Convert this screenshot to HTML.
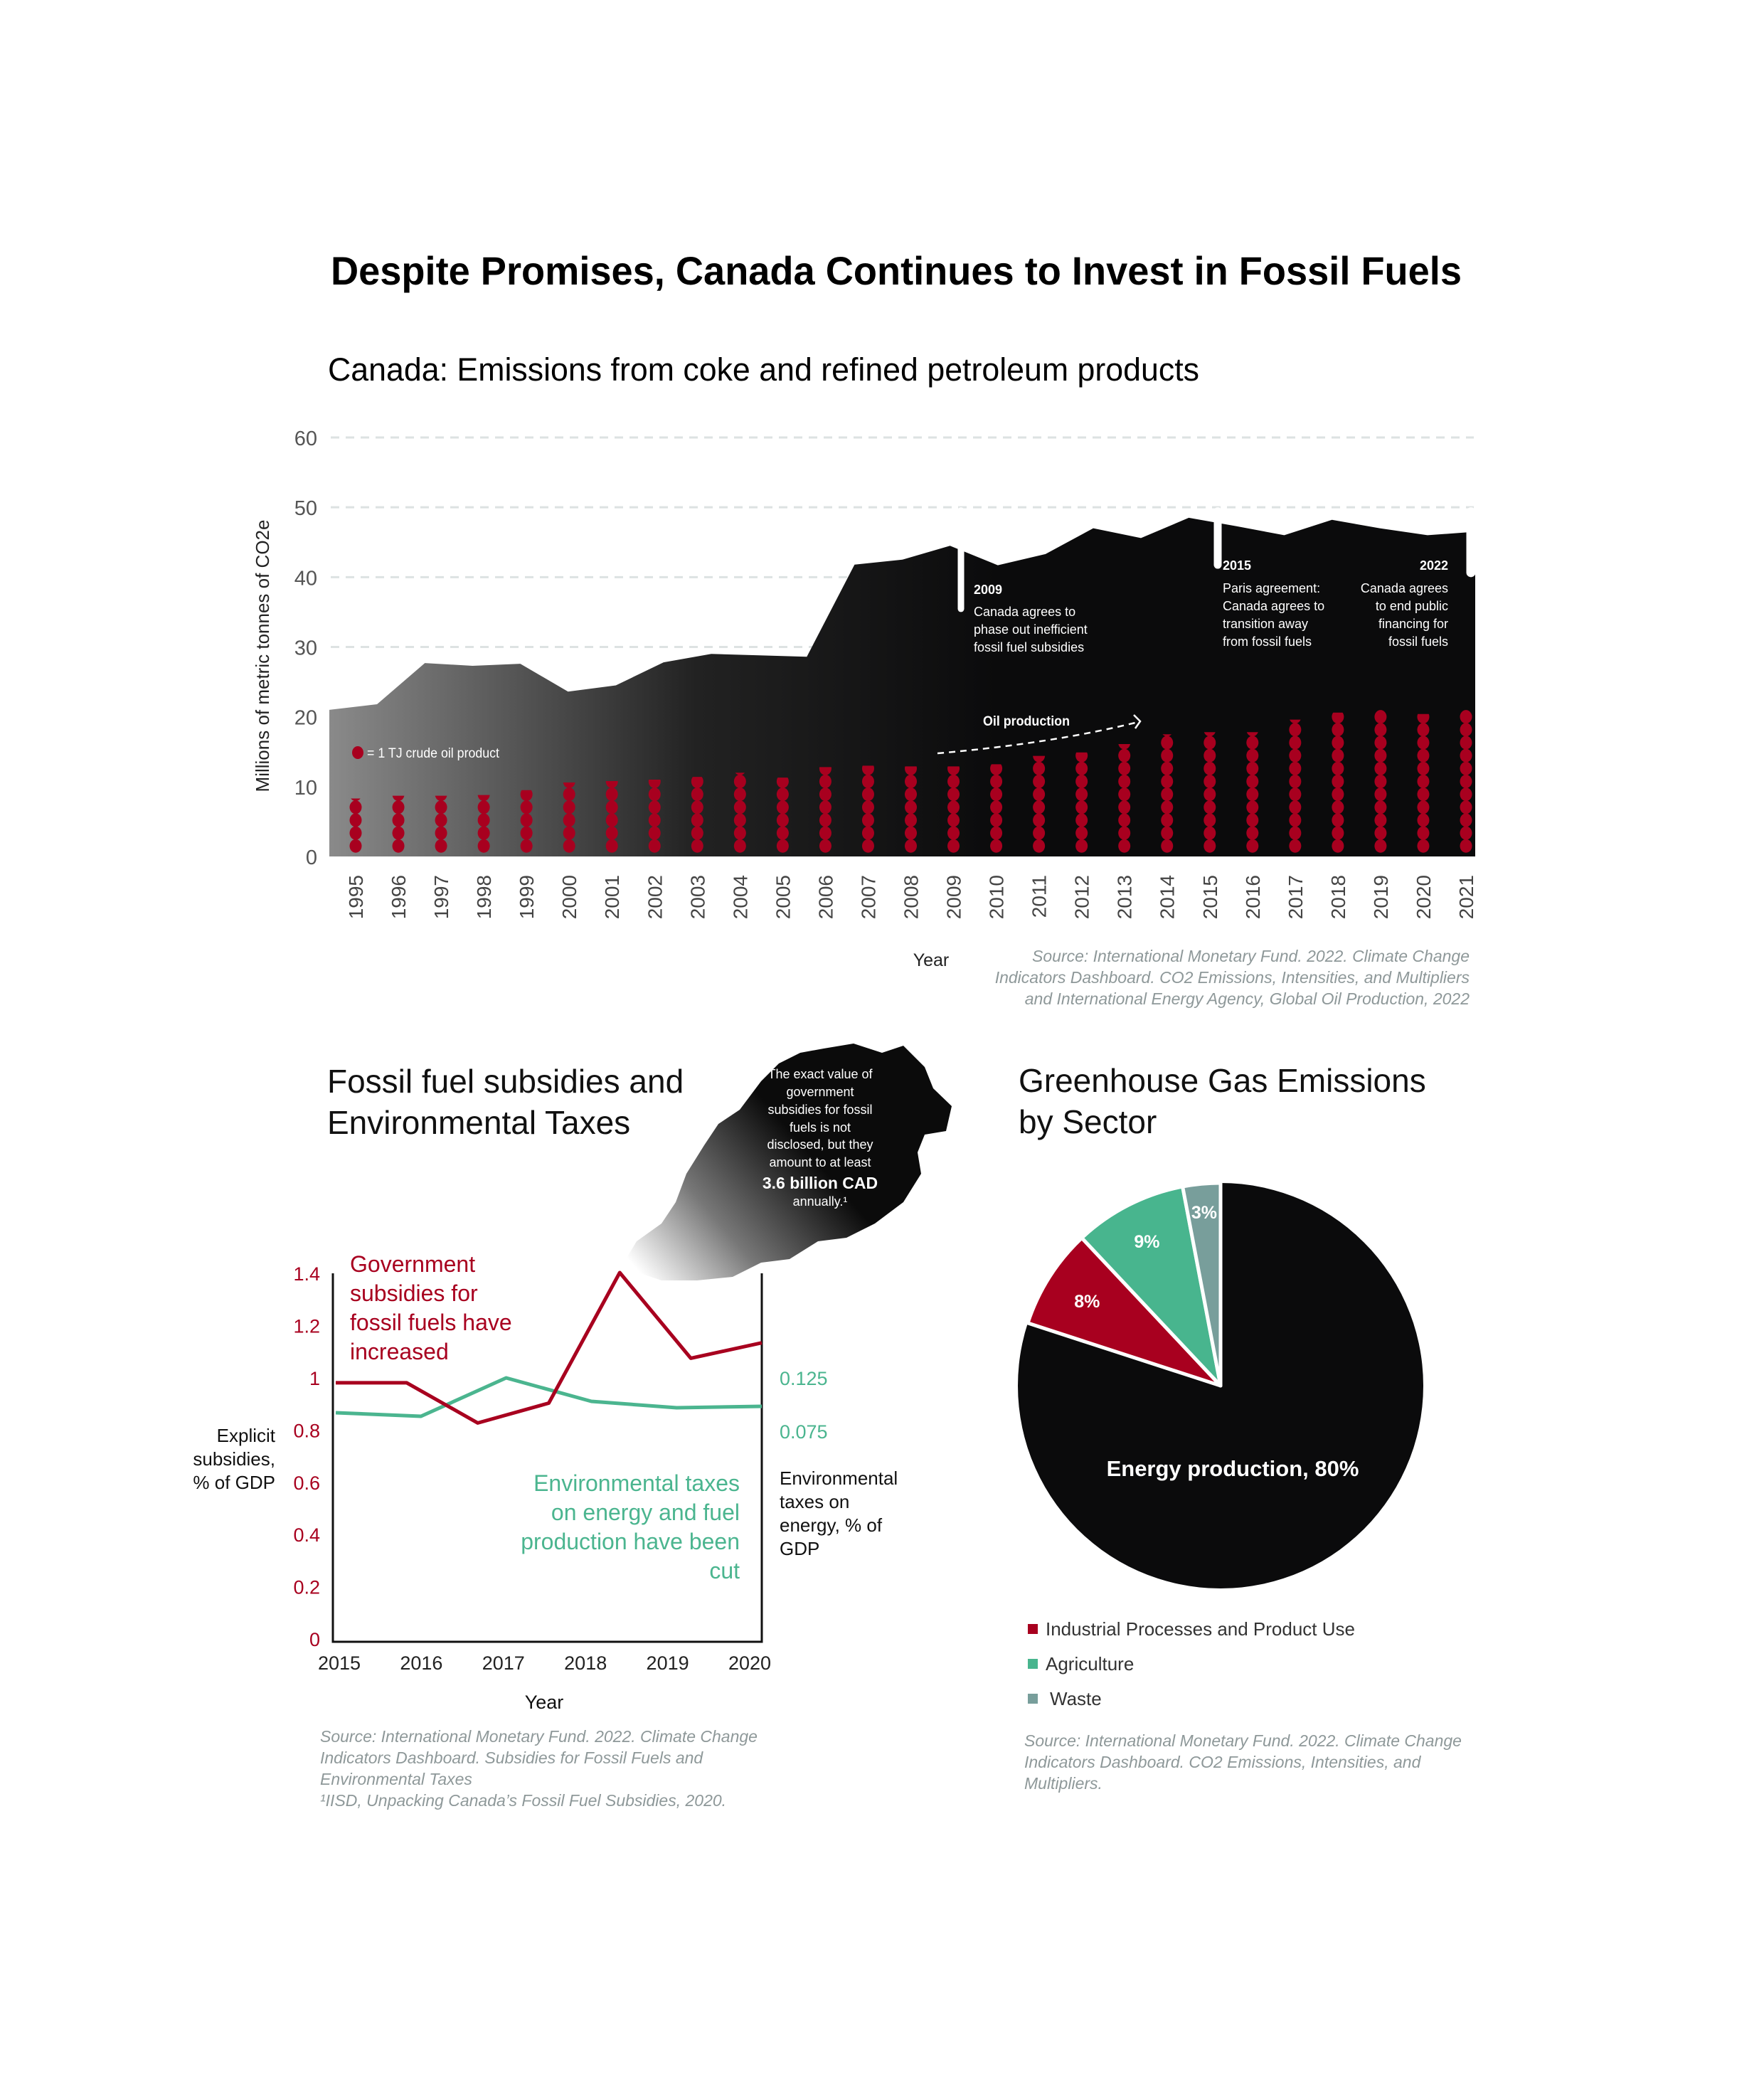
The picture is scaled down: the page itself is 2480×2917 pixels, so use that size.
<!DOCTYPE html>
<html><head><meta charset="utf-8"><style>
html,body{margin:0;padding:0;background:#fff}
svg{display:block;font-family:"Liberation Sans",sans-serif}
</style></head><body>
<svg id="s" width="2480" height="2917" viewBox="0 0 2480 2917" xmlns="http://www.w3.org/2000/svg">
<defs>
<linearGradient id="ag" x1="463" y1="0" x2="1400" y2="0" gradientUnits="userSpaceOnUse">
<stop offset="0" stop-color="#8a8a8a"/><stop offset="0.55" stop-color="#222"/><stop offset="1" stop-color="#0b0b0c"/></linearGradient>
<linearGradient id="cg" x1="900" y1="1790" x2="1120" y2="1600" gradientUnits="userSpaceOnUse">
<stop offset="0" stop-color="#fff"/><stop offset="0.45" stop-color="#777"/><stop offset="1" stop-color="#0b0b0b"/></linearGradient>
</defs>
<text x="1260" y="400" text-anchor="middle" font-size="56" font-weight="bold" textLength="1590" lengthAdjust="spacingAndGlyphs">Despite Promises, Canada Continues to Invest in Fossil Fuels</text>
<text x="461" y="535" font-size="45" textLength="1225" lengthAdjust="spacingAndGlyphs">Canada: Emissions from coke and refined petroleum products</text>
<g id="topchart"></g>
<g id="line"></g>
<g id="pie"></g>
</svg>
<script>
// ---- Top chart data ----
const years = [1995,1996,1997,1998,1999,2000,2001,2002,2003,2004,2005,2006,2007,2008,2009,2010,2011,2012,2013,2014,2015,2016,2017,2018,2019,2020,2021];
const emissions = [21,21.8,27.7,27.3,27.6,23.6,24.5,27.8,29,28.8,28.6,41.8,42.5,44.5,41.7,43.3,47,45.6,48.5,47.3,46,48.2,47,46,46.5];
const oilProduction = [8.3,8.7,8.7,8.8,9.5,10.6,10.8,11,11.4,12,11.3,12.8,13,12.9,12.9,13.2,14.4,14.9,16.1,17.5,17.8,17.8,19.6,20.6,21,20.4,21];
const yTicks = [0,10,20,30,40,50,60];
// ---- Line chart data ----
const lineYears = ["2015","2016","2017","2018","2019","2020"];
const subsidies = [0.984,0.984,0.83,0.906,1.406,1.078,1.137];
const envTaxes = [0.093,0.0897,0.1257,0.1037,0.0977,0.099];
const leftTicks = ["0","0.2","0.4","0.6","0.8","1","1.2","1.4"];
const leftTickVals = [0,0.2,0.4,0.6,0.8,1,1.2,1.4];
const rightTickVals = [0.075,0.125];
// ---- Pie data ----
const pieLabels = ["Energy production","Industrial Processes and Product Use","Agriculture","Waste"];
const pieValues = [80,8,9,3];

const NS="http://www.w3.org/2000/svg";
function mk(p,tag,a,txt){const e=document.createElementNS(NS,tag);for(const k in a)e.setAttribute(k,a[k]);if(txt!==undefined)e.textContent=txt;p.appendChild(e);return e;}
function txt(p,name,x,y,s,opt,str){const a=Object.assign({x:x,y:y,'font-size':s},opt||{});const t=mk(p,'text',a,str);return t;}

// Top chart axes
const X0=463,X1=2074,Y0=1204,PU=(1204-615)/60;
const yS=v=>Y0-v*PU;
const xY=i=>500+i*(2061-500)/(years.length-1);
const xA=i=>X0+i*(X1-X0)/(emissions.length-1);
const topG=document.getElementById('topchart');
yTicks.forEach(v=>{
  if(v>0){const g=mk(topG,'line',{x1:465,x2:2072,y1:yS(v),y2:yS(v),stroke:'#dde2e2','stroke-width':3,'stroke-dasharray':'12 9'});
  
  }
  const t=mk(topG,'text',{x:446,y:yS(v)+11,'text-anchor':'end','font-size':29,fill:'#555'},String(v));
  
  
});
let d='M'+X0+','+Y0;
emissions.forEach((v,i)=>{d+=' L'+xA(i).toFixed(1)+','+yS(v).toFixed(1);});
d+=' L'+X1+','+Y0+' Z';
const area=mk(topG,'path',{d:d,fill:'url(#ag)'});


// drips
[[1351,35,9],[1712,41.2,11],[2068,40,13]].forEach((q,k)=>{
  const g=mk(topG,'g',{});
  
  
  mk(g,'rect',{x:q[0]-q[2]/2,y:yS(50),width:q[2],height:yS(q[1])-yS(50),fill:'#fff',rx:q[2]/2});
});
// dots
oilProduction.forEach((v,i)=>{
  const cid='cl'+i;
  const cp=mk(topG,'clipPath',{id:cid});
  mk(cp,'rect',{x:xY(i)-15,y:yS(v),width:30,height:Y0-yS(v)});
  const g=mk(topG,'g',{});
  
  
  g.setAttribute('clip-path','url(#'+cid+')');
  for(let c=1.5;c-0.8<v;c+=1.85){mk(g,'ellipse',{cx:xY(i),cy:yS(c),rx:8.5,ry:9.5,fill:'#a8001f'});}
});
years.forEach((y,i)=>{
  const t=mk(topG,'text',{transform:'translate('+(xY(i)+10)+',1230) rotate(-90)','text-anchor':'end','font-size':28,fill:'#444'},String(y));
  
  
});
txt(topG,'y-axis-title',0,0,26,{transform:'translate(378,922) rotate(-90)','text-anchor':'middle',fill:'#222'},'Millions of metric tonnes of CO2e');
txt(topG,'x-axis-title',1309,1358,25,{'text-anchor':'middle',fill:'#222'},'Year');
const ld=mk(topG,'ellipse',{cx:503,cy:1058,rx:8,ry:9,fill:'#a8001f'});


txt(topG,'legend-label',516,1065,19,{fill:'#fff',textLength:186,lengthAdjust:'spacingAndGlyphs'},'= 1 TJ crude oil product');
txt(topG,'oil-production-label',1382,1020,19,{fill:'#fff','font-weight':'bold',textLength:122,lengthAdjust:'spacingAndGlyphs'},'Oil production');
const ar=mk(topG,'path',{d:'M1318,1059 Q1480,1045 1600,1015',stroke:'#fff','stroke-width':2.5,fill:'none','stroke-dasharray':'9 7'});


mk(topG,'path',{d:'M1594,1005 L1603,1014 L1596,1024',stroke:'#fff','stroke-width':2.5,fill:'none'});
const tb=(name,x,ys,lines,anchor)=>lines.forEach((l,i)=>txt(topG,name+'-'+i,x,ys[i],18,{fill:'#fff','text-anchor':anchor,'font-weight':i==0?'bold':'normal'},l));
tb('note-2009',1369,[835,866,891,916],['2009','Canada agrees to','phase out inefficient','fossil fuel subsidies'],'start');
tb('note-2015',1719,[801,833,858,883,908],['2015','Paris agreement:','Canada agrees to','transition away','from fossil fuels'],'start');
tb('note-2022',2036,[801,833,858,883,908],['2022','Canada agrees','to end public','financing for','fossil fuels'],'end');
['Source: International Monetary Fund. 2022. Climate Change','Indicators Dashboard. CO2 Emissions, Intensities, and Multipliers','and International Energy Agency, Global Oil Production, 2022'].forEach((l,i)=>
  txt(topG,'emissions-source-'+i,2066,[1352,1382,1412][i],23,{'text-anchor':'end',fill:'#8e9899','font-style':'italic'},l));

// ---- Line chart ----
const L=document.getElementById('line');
const LX0=468,LX1=1071,LY0=2305,LPU=367;
const ly=v=>LY0-v*LPU;
const ry=v=>1938+(0.125-v)*1500;
txt(L,'line-title-1',460,1536,46,{fill:'#111'},'Fossil fuel subsidies and');
txt(L,'line-title-2',460,1594,46,{fill:'#111'},'Environmental Taxes');
const cl=mk(L,'path',{d:'M1158,1474 L1200,1467 L1240,1480 L1270,1470 L1300,1500 L1312,1530 L1338,1555 L1330,1590 L1300,1595 L1290,1620 L1295,1650 L1270,1690 L1230,1720 L1190,1740 L1150,1745 L1110,1770 L1070,1775 L1030,1795 L980,1800 L930,1800 L900,1790 L880,1770 L895,1745 L930,1720 L950,1690 L965,1650 L990,1610 L1010,1580 L1040,1560 L1070,1520 L1095,1495 L1125,1480 Z',fill:'url(#cg)'});


['The exact value of','government','subsidies for fossil','fuels is not','disclosed, but they','amount to at least','3.6 billion CAD','annually.¹'].forEach((l,i)=>
  txt(L,'cloud-text-'+i,1153,[1516,1541,1566,1591,1615,1640,1671,1695][i],i==6?23:18,{fill:'#fff','text-anchor':'middle','font-weight':i==6?'bold':'normal'},l));
const ax=mk(L,'path',{d:'M'+LX0+',1790 L'+LX0+','+(LY0+3)+' L'+LX1+','+(LY0+3)+' L'+LX1+',1790',stroke:'#111','stroke-width':3,fill:'none'});


leftTicks.forEach((l,i)=>txt(L,'left-tick-'+l,450,ly(leftTickVals[i])+9,27,{'text-anchor':'end',fill:'#a8001f'},l));
rightTickVals.forEach(v=>txt(L,'right-tick-'+v,1096,ry(v)+9,27,{fill:'#4bb58f'},String(v)));
lineYears.forEach((y,i)=>txt(L,'line-x-tick-'+y,477+i*(1054-477)/5,2347,27,{'text-anchor':'middle',fill:'#222'},y));
txt(L,'line-x-title',765,2402,27,{'text-anchor':'middle',fill:'#111'},'Year');
let rd='';subsidies.forEach((v,i)=>{rd+=(i?' L':'M')+(472+i*(1071-472)/(subsidies.length-1)).toFixed(1)+','+ly(v).toFixed(1);});
let gd='';envTaxes.forEach((v,i)=>{gd+=(i?' L':'M')+(472+i*(1071-472)/(envTaxes.length-1)).toFixed(1)+','+ry(v).toFixed(1);});
const gl=mk(L,'path',{d:gd,stroke:'#4bb58f','stroke-width':5,fill:'none','stroke-linejoin':'round'});


const rl=mk(L,'path',{d:rd,stroke:'#a8001f','stroke-width':5,fill:'none','stroke-linejoin':'round'});


['Government','subsidies for','fossil fuels have','increased'].forEach((l,i)=>txt(L,'red-note-'+i,492,1788+i*41,32,{fill:'#a8001f'},l));
['Environmental taxes','on energy and fuel','production have been','cut'].forEach((l,i)=>txt(L,'green-note-'+i,1040,2096+i*41,32,{fill:'#4bb58f','text-anchor':'end'},l));
['Explicit','subsidies,','% of GDP'].forEach((l,i)=>txt(L,'left-axis-title-'+i,387,2027+i*33,26,{'text-anchor':'end',fill:'#111'},l));
['Environmental','taxes on','energy, % of','GDP'].forEach((l,i)=>txt(L,'right-axis-title-'+i,1096,2087+i*33,26,{fill:'#111'},l));
['Source: International Monetary Fund. 2022. Climate Change','Indicators Dashboard. Subsidies for Fossil Fuels and','Environmental Taxes','¹IISD, Unpacking Canada’s Fossil Fuel Subsidies, 2020.'].forEach((l,i)=>
  txt(L,'line-source-'+i,450,2449+i*30,23,{fill:'#8e9899','font-style':'italic'},l));

// ---- Pie ----
const P=document.getElementById('pie');
const CX=1716,CY=1948,R=285;
txt(P,'pie-title-1',1432,1535,46,{fill:'#111'},'Greenhouse Gas  Emissions');
txt(P,'pie-title-2',1432,1593,46,{fill:'#111'},'by Sector');
const cols=['#0b0b0c','#a8001f','#48b58e','#789e9b'];
const tot=pieValues.reduce((a,b)=>a+b,0);
let a0=0;
pieValues.forEach((v,i)=>{
  const a1=a0+v/tot*2*Math.PI;
  const p=(a)=>[CX+R*Math.sin(a),CY-R*Math.cos(a)];
  const s=p(a0),e=p(a1);
  const sl=mk(P,'path',{d:`M${CX},${CY} L${s[0]},${s[1]} A${R},${R} 0 ${a1-a0>Math.PI?1:0} 1 ${e[0]},${e[1]} Z`,fill:cols[i],stroke:'#fff','stroke-width':i==0?0:5,'stroke-linejoin':'round'});
  
  
  const m=(a0+a1)/2;
  if(i==0){txt(P,'pie-label-energy',CX+17,CY+127,31,{fill:'#fff','text-anchor':'middle','font-weight':'bold'},pieLabels[0]+', '+v+'%');}
  else{const rr=[0,0.78,0.8,0.86][i];txt(P,'pie-label-'+i,CX+R*rr*Math.sin(m),CY-R*rr*Math.cos(m)+9,25,{fill:'#fff','text-anchor':'middle','font-weight':'bold'},v+'%');}
  a0=a1;
});
[1,2,3].forEach((k,j)=>{
  const r=mk(P,'rect',{x:1445,y:2283+j*49,width:14,height:14,fill:cols[k]});
  
  
  txt(P,'legend-entry-'+k,k==3?1476:1470,2299+j*49,26,{fill:'#333'},pieLabels[k]);
});
['Source: International Monetary Fund. 2022. Climate Change','Indicators Dashboard. CO2 Emissions, Intensities, and','Multipliers.'].forEach((l,i)=>
  txt(P,'pie-source-'+i,1440,2455+i*30,23,{fill:'#8e9899','font-style':'italic'},l));
</script>
</body></html>
